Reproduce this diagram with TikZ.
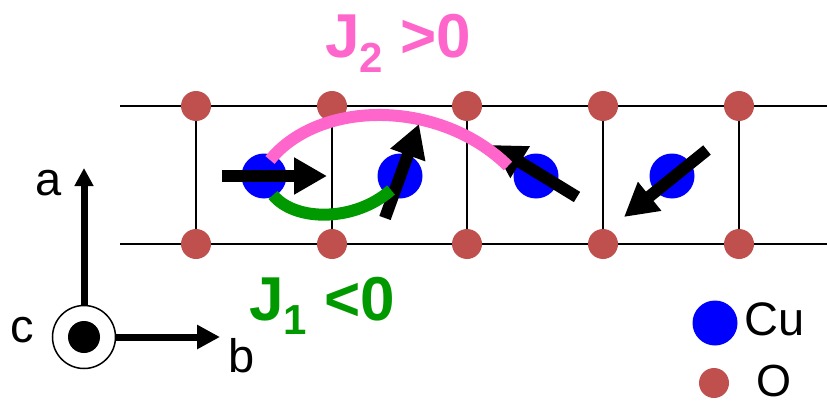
\documentclass[tikz,border=0pt]{standalone}
\usepackage{fontspec}
\setmainfont{Liberation Sans}
\usetikzlibrary{arrows.meta}
\definecolor{ored}{RGB}{192,80,77}
\definecolor{pinkJ}{RGB}{255,102,204}
\definecolor{greenJ}{RGB}{0,153,0}
\begin{document}
\begin{tikzpicture}[x=1pt,y=-1pt,
  oatom/.style={circle, fill=ored, minimum size=30pt, inner sep=0pt},
  cuatom/.style={circle, fill=blue, minimum size=45pt, inner sep=0pt},
  spin/.style={line width=12pt, -{Triangle[length=33pt,width=35pt]}},
  lat/.style={line width=1.8pt},
  bond/.style={line width=12pt},
  axarrow/.style={line width=7pt},
  lbl/.style={inner sep=0pt, anchor=base west, font=\fontsize{47}{47}\selectfont}]
\useasboundingbox (0,0) rectangle (827,404);
% lattice coordinates
\coordinate (tl) at (120,106);
\coordinate (tr) at (827,106);
\coordinate (bl) at (120,244);
\coordinate (br) at (827,244);
\foreach \i/\x in {1/196,2/332,3/467,4/603,5/739}{
  \coordinate (t\i) at (\x,106);
  \coordinate (b\i) at (\x,244);
}
\draw[lat] (tl) -- (tr);
\draw[lat] (bl) -- (br);
\foreach \i in {1,...,5}{\draw[lat] (t\i) -- (b\i);}
\foreach \i in {1,...,5}{
  \node[oatom] (ot\i) at (t\i) {};
  \node[oatom] (ob\i) at (b\i) {};
}
% Cu atoms
\node[cuatom] (cu1) at (264,176) {};
\node[cuatom] (cu2) at (400,176) {};
\node[cuatom] (cu3) at (536,176) {};
\node[cuatom] (cu4) at (672,176) {};
% spin arrows
\coordinate (s1a) at (222,176); \coordinate (s1b) at (327,176);
\coordinate (s2a) at (385,218); \coordinate (s2b) at (419,124);
\coordinate (s3a) at (577,197); \coordinate (s3b) at (492,145);
\coordinate (s4a) at (707,150); \coordinate (s4b) at (624,217);
\draw[spin] (s1a) -- (s1b);
\draw[spin] (s3a) -- (s3b);
\draw[spin] (s4a) -- (s4b);
% exchange paths
\coordinate (p1) at (270,160); \coordinate (p2) at (508,166);
\coordinate (g1) at (273,195); \coordinate (g2) at (391,190);
\draw[bond, pinkJ] (p1) .. controls (320,99) and (440,99) .. (p2);
\draw[spin] (s2a) -- (s2b);
\draw[bond, greenJ] (g1) .. controls (295,222) and (355,222) .. (g2);
% labels J
\node[inner sep=0pt, anchor=base west, text=pinkJ, font=\bfseries\fontsize{62}{62}\selectfont] (j2) at (325,58)
  {J\raisebox{-15pt}{\fontsize{42}{42}\selectfont 2} >0};
\node[inner sep=0pt, anchor=base west, text=greenJ, font=\bfseries\fontsize{62}{62}\selectfont] (j1) at (249,320)
  {J\raisebox{-14pt}{\fontsize{42}{42}\selectfont 1} <0};
% axes
\node[circle, draw, line width=1.5pt, minimum size=63pt, inner sep=0pt] (cax) at (84,337) {};
\node[circle, fill=black, minimum size=32pt, inner sep=0pt] (cdot) at (84,337) {};
\coordinate (atip) at (84,168);
\coordinate (btip) at (220,337);
\draw[axarrow, -{Triangle[length=18pt,width=18pt]}] (cax.north) -- (atip);
\draw[axarrow, -{Triangle[length=23pt,width=23pt]}] (cax.east) -- (btip);
\node[lbl] (la) at (35,195) {a};
\node[lbl] (lc) at (10,342) {c};
\node[lbl] (lb) at (228,372) {b};
% legend
\node[cuatom] (lcu) at (715,323) {};
\node[oatom] (lo) at (714,383) {};
\node[lbl] (tcu) at (744,335) {Cu};
\node[lbl, font=\fontsize{45}{45}\selectfont] (to) at (756,396) {O};
\end{tikzpicture}
\end{document}
